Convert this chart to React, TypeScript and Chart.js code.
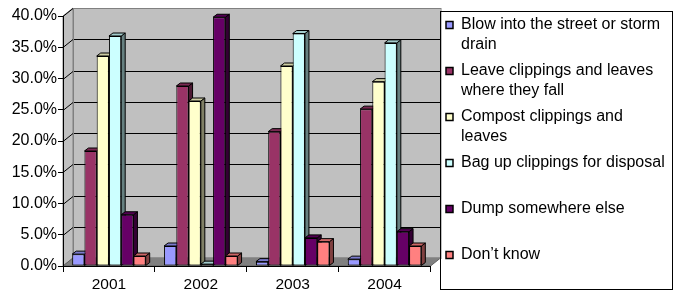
import React, { useEffect, useRef } from 'react';
import { Chart, registerables } from 'chart.js';

Chart.register(...registerables);

// ---------- data ----------
const categories = ['2001', '2002', '2003', '2004'];

const seriesNames = [
  'Blow into the street or storm drain',
  'Leave clippings and leaves where they fall',
  'Compost clippings and leaves',
  'Bag up clippings for disposal',
  'Dump somewhere else',
  'Don\u2019t know',
];

// legend text as it is wrapped in the reference
const legendLines = [
  ['Blow into the street or storm', 'drain'],
  ['Leave clippings and leaves', 'where they fall'],
  ['Compost clippings and', 'leaves'],
  ['Bag up clippings for disposal', ''],
  ['Dump somewhere else', ''],
  ['Don\u2019t know', ''],
];

// percent values per year
const blowIntoStreet = [1.9, 3.2, 0.7, 1.1];
const leaveWhereFall = [18.4, 28.8, 21.5, 25.1];
const compostClippings = [33.6, 26.4, 32.0, 29.5];
const bagForDisposal = [36.8, 0.3, 37.2, 35.7];
const dumpElsewhere = [8.2, 39.8, 4.5, 5.5];
const dontKnow = [1.6, 1.6, 3.9, 3.2];

const yMin = 0;
const yMax = 40;
const yStep = 5;

const seriesColors = ['#9999FF', '#993366', '#FFFFCC', '#CCFFFF', '#660066', '#FF8080'];

// ---------- styling ----------
const FONT = '"Liberation Sans", Arial, Helvetica, sans-serif';
const W = 674;
const H = 294;
const PLOT_LEFT = 63;
const PLOT_RIGHT = 412;
const PLOT_TOP = 16;
const X_AXIS_H = 28;
const WALL_DX = 10;
const WALL_DY = -8;
const BAR_DX = 4;
const BAR_DY = -3;
const LEGEND_BOX = { left: 440, top: 11, right: 673, bottom: 289 };

function shade(hex: string, f: number) {
  const n = parseInt(hex.slice(1), 16);
  const r = Math.round(((n >> 16) & 255) * f);
  const g = Math.round(((n >> 8) & 255) * f);
  const b = Math.round((n & 255) * f);
  return `rgb(${r},${g},${b})`;
}

const threeDPlugin = {
  id: 'threeD',
  beforeDraw(chart: any) {
    const lg = chart.legend;
    if (lg) {
      lg.left = LEGEND_BOX.left;
      lg.right = LEGEND_BOX.right;
      lg.top = LEGEND_BOX.top;
      lg.bottom = LEGEND_BOX.bottom;
      lg.width = LEGEND_BOX.right - LEGEND_BOX.left;
      lg.height = LEGEND_BOX.bottom - LEGEND_BOX.top;
    }
    const { ctx, chartArea: a, scales } = chart;
    const ys = scales.y;
    const L = a.left, R = a.right, T = a.top, B = a.bottom;
    ctx.save();
    // back wall
    ctx.fillStyle = '#C0C0C0';
    ctx.fillRect(L + WALL_DX, T + WALL_DY, R - L, B - T);
    // left wall
    ctx.beginPath();
    ctx.moveTo(L, T);
    ctx.lineTo(L + WALL_DX, T + WALL_DY);
    ctx.lineTo(L + WALL_DX, B + WALL_DY);
    ctx.lineTo(L, B);
    ctx.closePath();
    ctx.fillStyle = '#C0C0C0';
    ctx.fill();
    ctx.strokeStyle = '#808080';
    ctx.lineWidth = 1;
    ctx.stroke();
    // floor
    ctx.beginPath();
    ctx.moveTo(L, B);
    ctx.lineTo(L + WALL_DX, B + WALL_DY);
    ctx.lineTo(R + WALL_DX, B + WALL_DY);
    ctx.lineTo(R, B);
    ctx.closePath();
    ctx.fillStyle = '#808080';
    ctx.fill();
    ctx.strokeStyle = '#606060';
    ctx.stroke();
    // gridlines on the walls
    ctx.strokeStyle = '#000';
    ctx.lineWidth = 1;
    for (let v = yMin + yStep; v <= yMax + 1e-9; v += yStep) {
      const py = Math.round(ys.getPixelForValue(v)) + 0.5;
      ctx.beginPath();
      ctx.moveTo(L, py);
      ctx.lineTo(L + WALL_DX, py + WALL_DY);
      ctx.lineTo(R + WALL_DX, py + WALL_DY);
      ctx.stroke();
    }
    // back wall outline
    ctx.strokeStyle = '#808080';
    ctx.strokeRect(Math.round(L + WALL_DX) + 0.5, Math.round(T + WALL_DY) + 0.5, R - L, B - T);
    ctx.restore();
  },
  beforeDatasetsDraw(chart: any) {
    const { ctx } = chart;
    const nSets = chart.data.datasets.length;
    const nCats = chart.data.labels.length;
    ctx.save();
    ctx.lineWidth = 1;
    ctx.strokeStyle = '#000';
    ctx.lineJoin = 'round';
    for (let j = 0; j < nCats; j++) {
      for (let d = 0; d < nSets; d++) {
        const meta = chart.getDatasetMeta(d);
        const el = meta.data[j];
        if (!el) continue;
        const { x, y, base, width } = el.getProps(['x', 'y', 'base', 'width'], true);
        const l = x - width / 2;
        const r = x + width / 2;
        const col = seriesColors[d];
        // side face
        ctx.beginPath();
        ctx.moveTo(r, y);
        ctx.lineTo(r + BAR_DX, y + BAR_DY);
        ctx.lineTo(r + BAR_DX, base + BAR_DY);
        ctx.lineTo(r, base);
        ctx.closePath();
        ctx.fillStyle = shade(col, 0.5);
        ctx.fill();
        ctx.stroke();
        // top face
        ctx.beginPath();
        ctx.moveTo(l, y);
        ctx.lineTo(l + BAR_DX, y + BAR_DY);
        ctx.lineTo(r + BAR_DX, y + BAR_DY);
        ctx.lineTo(r, y);
        ctx.closePath();
        ctx.fillStyle = shade(col, 0.8);
        ctx.fill();
        ctx.stroke();
      }
    }
    ctx.restore();
  },
  afterDraw(chart: any) {
    const { ctx } = chart;
    ctx.save();
    ctx.strokeStyle = '#000';
    ctx.lineWidth = 1;
    ctx.strokeRect(
      LEGEND_BOX.left + 0.5,
      LEGEND_BOX.top + 0.5,
      LEGEND_BOX.right - LEGEND_BOX.left - 1,
      LEGEND_BOX.bottom - LEGEND_BOX.top
    );
    ctx.restore();
  },
};

export default function App() {
  const canvasRef = useRef<HTMLCanvasElement | null>(null);

  useEffect(() => {
    document.body.style.margin = '0';
    const canvas = canvasRef.current;
    if (!canvas) return;
    const seriesValues = [
      blowIntoStreet,
      leaveWhereFall,
      compostClippings,
      bagForDisposal,
      dumpElsewhere,
      dontKnow,
    ];
    const chart: any = new Chart(canvas, {
      type: 'bar',
      data: {
        labels: categories,
        datasets: seriesNames.map((name, i) => ({
          label: name,
          data: seriesValues[i],
          backgroundColor: seriesColors[i],
          borderColor: '#000000',
          borderWidth: 1,
          borderSkipped: false,
          categoryPercentage: 0.8,
          barPercentage: 1.0,
        })),
      },
      options: {
        animation: false,
        responsive: false,
        devicePixelRatio: 1,
        layout: { padding: { left: 0, top: 0, bottom: 0, right: 26 } },
        plugins: {
          tooltip: { enabled: false },
          title: { display: false },
          legend: {
            display: true,
            position: 'right',
            align: 'start',
            labels: {
              boxWidth: 7,
              boxHeight: 7,
              padding: 6,
              color: '#000',
              font: { family: FONT, size: 16, lineHeight: '20px' as any },
              generateLabels: (c: any) => {
                const items = (Chart as any).defaults.plugins.legend.labels.generateLabels(c);
                return items.map((it: any, i: number) => ({
                  ...it,
                  text: legendLines[i],
                  strokeStyle: '#000',
                  lineWidth: 1.5,
                }));
              },
            },
          },
        },
        scales: {
          x: {
            grid: {
              display: true,
              offset: true,
              drawOnChartArea: false,
              drawTicks: true,
              tickLength: 6,
              color: '#000',
            },
            border: { display: true, color: '#000', width: 1 },
            ticks: {
              color: '#000',
              padding: 3,
              font: { family: FONT, size: 15.5 },
              maxRotation: 0,
            },
            afterFit: (s: any) => {
              s.height = X_AXIS_H;
            },
          },
          y: {
            min: yMin,
            max: yMax,
            grid: {
              display: true,
              drawOnChartArea: false,
              drawTicks: true,
              tickLength: 5,
              color: '#000',
            },
            border: { display: true, color: '#000', width: 1 },
            ticks: {
              stepSize: yStep,
              color: '#000',
              padding: 1,
              font: { family: FONT, size: 16 },
              callback: (v: any) => Number(v).toFixed(1) + '%',
            },
            afterFit: (s: any) => {
              s.width = PLOT_LEFT;
              s.paddingTop = PLOT_TOP;
            },
          },
        },
      },
      plugins: [threeDPlugin],
    } as any);

    // keep the plot's right edge where the reference has it
    const diff = chart.chartArea.right - PLOT_RIGHT;
    if (Math.abs(diff) > 0.01) {
      chart.options.layout.padding.right += diff;
      chart.update();
    }

    return () => chart.destroy();
  }, []);

  return (
    <div style={{ width: W, height: H, background: '#fff' }}>
      <canvas ref={canvasRef} width={W} height={H} style={{ display: 'block' }} />
    </div>
  );
}
